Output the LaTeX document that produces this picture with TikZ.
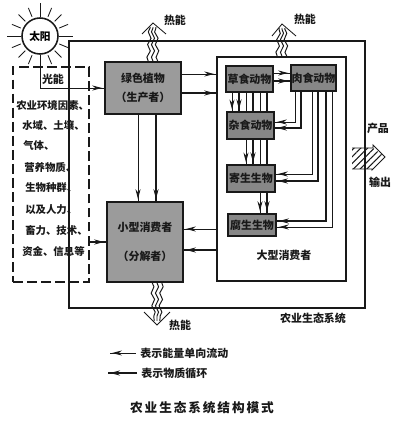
\documentclass[tikz,border=0pt]{standalone}
\usepackage{xcolor}
\usepackage{fontspec}
\setmainfont{Noto Sans CJK SC}
\newfontfamily\titlefont{Noto Sans CJK SC}[LetterSpace=15]
\usetikzlibrary{positioning,arrows.meta,calc,backgrounds,decorations.markings,decorations.pathmorphing,patterns.meta}
\definecolor{boxgray}{RGB}{155,155,155}
\definecolor{animalgray}{RGB}{135,135,135}
\definecolor{inkcol}{RGB}{25,25,25}
\tikzset{
  cnlabel/.style={text=inkcol, inner sep=0pt, font=\fontsize{7.8pt}{9pt}\selectfont\bfseries},
  envtext/.style={cnlabel, anchor=west, font=\fontsize{7.4pt}{9pt}\selectfont\bfseries},
  keytext/.style={cnlabel, anchor=west, inner sep=3pt},
  mainbox/.style={draw=inkcol, fill=boxgray, line width=1.2pt, align=center, text=inkcol,
                  minimum width=1.9cm, font=\fontsize{7.8pt}{9pt}\selectfont\bfseries},
  animalbox/.style={draw=inkcol, fill=animalgray, line width=1.2pt, text=inkcol, inner sep=0pt,
                    minimum height=0.66cm, font=\fontsize{7.8pt}{9pt}\selectfont\bfseries},
  frame/.style={draw=inkcol, line width=1.1pt, inner sep=0pt},
  sunray/.style={draw=inkcol, line width=0.6pt},
  flowtip/.style={postaction={decorate, decoration={markings,
                  mark=at position -1.5pt with {\arrow{Stealth[length=7pt,width=3.6pt]}}}}},
  energyflow/.style={draw=inkcol, line width=0.7pt, flowtip},
  matterflow/.style={draw=inkcol, line width=1.3pt, flowtip},
  plainthin/.style={draw=inkcol, line width=0.7pt},
  heatwave/.style={draw=inkcol, line width=0.7pt, decorate,
                   decoration={snake, amplitude=1.1pt, segment length=9pt}},
  heathead/.style={draw=inkcol, line width=0.6pt},
  hatched/.style={pattern={Lines[angle=45,distance=3.4pt,line width=0.7pt]}, pattern color=inkcol}
}

\begin{document}
\begin{tikzpicture}
  \useasboundingbox (0,0) rectangle (10,10.525);

  % Frames
  \node[frame, minimum width=7.4cm, minimum height=6.675cm] (system) at (5.425,6.1625) {};
  \node[frame, minimum width=3.225cm, minimum height=5.6cm] (bigframe) at (7.0375,6.3) {};
  \node[frame, dashed, dash pattern=on 7pt off 3pt, minimum width=1.9cm, minimum height=5.375cm] (envbox) at (1.275,6.1625) {};

  % Sun
  \node[draw=inkcol, fill=white, circle, line width=1.1pt, minimum size=0.9cm, inner sep=0pt,
        font=\fontsize{7.6pt}{9pt}\selectfont\bfseries] (sun) at (1.0,9.625) {太阳};
  \foreach \ang in {0,90,180}
    \draw[sunray] (sun.\ang) -- ($(sun.center)+(\ang:0.83)$);
  \foreach \ang in {22.5,45,67.5,112.5,135,157.5,202.5,225,247.5,292.5,315,337.5}
    \draw[sunray] ($(sun.center)+(\ang:0.52)$) -- ($(sun.center)+(\ang:0.76)$);

  % Producer and decomposer
  \node[mainbox, minimum height=1.3cm] (green) at (3.575,8.325) {绿色植物\\[5pt]（生产者）};
  \node[mainbox, minimum height=2.0cm] (small) at (3.625,4.475) {小型消费者\\[12pt]（分解者）};

  % Large consumers
  \node[animalbox, minimum width=1.175cm] (caoshi) at (6.2375,8.55) {草食动物};
  \node[animalbox, minimum width=1.125cm] (roushi) at (7.8375,8.575) {肉食动物};
  \node[animalbox, minimum width=1.175cm] (zashi) at (6.2625,7.3875) {杂食动物};
  \node[animalbox, minimum width=1.2cm] (jisheng) at (6.275,6.0625) {寄生生物};
  \node[animalbox, minimum width=1.2cm, minimum height=0.55cm] (fusheng) at (6.3,4.9) {腐生生物};

  % Labels
  \node[cnlabel] (lightlabel) at (1.325,8.55) {光能};
  \node[cnlabel] (bigtext) at (7.1,4.15) {大型消费者};
  \node[cnlabel] (systext) at (7.825,2.575) {农业生态系统};
  \node[cnlabel] (heatone) at (4.375,10.025) {热能};
  \node[cnlabel] (heattwo) at (7.625,10.05) {热能};
  \node[cnlabel] (heatthree) at (4.5,2.4) {热能};
  \node[cnlabel] (product) at (9.45,7.325) {产品};
  \node[cnlabel] (output) at (9.5,5.975) {输出};

  % Environment list
  \foreach \i/\xpos/\ypos/\txt in {1/0.4/7.875/农业环境因素、, 2/0.55/7.4/水域、土壤、,
      3/0.575/6.875/气体、, 4/0.6/6.325/营养物质、, 5/0.625/5.825/生物种群、,
      6/0.625/5.275/以及人力、, 7/0.625/4.75/畜力、技术、, 8/0.55/4.25/资金、信息等}
    \node[envtext] (env\i) at (\xpos,\ypos) {\txt};

  % Heat outlets
  \coordinate (tipA) at (3.825,9.95);
  \coordinate (tipB) at (7.05,9.925);
  \coordinate (tipC) at (3.925,2.4);
  \draw[heathead] ($(tipA)+(-0.275,-0.275)$) -- (tipA) -- ($(tipA)+(0.325,-0.275)$);
  \draw[heathead] ($(tipB)+(-0.25,-0.3)$) -- (tipB) -- ($(tipB)+(0.35,-0.3)$);
  \draw[heathead] ($(tipC)+(-0.325,0.325)$) -- (tipC) -- ($(tipC)+(0.325,0.325)$);
  \foreach \off in {-0.12,0,0.12} {
    \draw[heatwave] ($(green.north -| tipA)+(\off,0)$) -- ($(tipA)+(\off*0.6,-0.1)$);
    \draw[heatwave] ($(bigframe.north -| tipB)+(\off,0)$) -- ($(tipB)+(\off*0.6,-0.1)$);
    \draw[heatwave] ($(small.south -| tipC)+(\off,0)$) -- ($(tipC)+(\off*0.6,0.1)$);
  }

  % Product outlet
  \path[hatched] (8.8,6.825) -- (9.325,6.825) -- (9.625,6.6) -- (9.3,6.3) -- (8.8,6.3) -- cycle;
  \draw[plainthin] (8.8,6.825) -- (9.325,6.825) -- (9.325,6.9) -- (9.625,6.6) -- (9.3,6.275) -- (9.3,6.3) -- (8.8,6.3);

  % Flows run behind the boxes
  \begin{scope}[on background layer]
    \draw[energyflow] (sun.south) |- (green.west);
    \draw[matterflow] (envbox.east |- small.west) -- (small.west);

    \foreach \ypos/\flow in {8.675/energyflow, 8.2/matterflow} {
      \coordinate (rail) at (0,\ypos);
      \draw[\flow] (green.east |- rail) -- (bigframe.west |- rail);
    }
    \foreach \xpos/\flow in {3.45/energyflow, 3.9/matterflow} {
      \coordinate (rail) at (\xpos,0);
      \draw[\flow] (green.south -| rail) -- (small.north -| rail);
    }
    \foreach \ypos/\flow in {4.8/energyflow, 4.275/matterflow} {
      \coordinate (rail) at (0,\ypos);
      \draw[\flow] (bigframe.west |- rail) -- (small.east |- rail);
    }
    \foreach \ypos/\flow in {8.7/energyflow, 8.5/matterflow} {
      \coordinate (rail) at (0,\ypos);
      \draw[\flow] (caoshi.east |- rail) -- (roushi.west |- rail);
    }

    % Herbivores downwards
    \foreach \xpos/\target/\flow in {5.8/zashi/energyflow, 5.975/zashi/matterflow,
        6.15/jisheng/energyflow, 6.325/jisheng/matterflow,
        6.5/fusheng/energyflow, 6.675/fusheng/matterflow} {
      \coordinate (rail) at (\xpos,0);
      \draw[\flow] (caoshi.south -| rail) -- (\target.north -| rail);
    }

    % Carnivores back to the left column
    \foreach \xpos/\ypos/\target/\flow in {7.375/7.475/zashi/energyflow, 7.525/7.325/zashi/matterflow,
        7.8/6.175/jisheng/energyflow, 7.95/6.0/jisheng/matterflow,
        8.15/5.0/fusheng/matterflow, 8.3/4.85/fusheng/energyflow} {
      \coordinate (bend) at (\xpos,\ypos);
      \draw[\flow] (roushi.south -| bend) -- (bend) -- (\target.east |- bend);
    }
  \end{scope}

  % Key
  \node[keytext] (energykey) at (3.4,1.7) {表示能量单向流动};
  \node[keytext] (matterkey) at (3.425,1.2) {表示物质循环};
  \coordinate (energyend) at (2.75,1.7);
  \coordinate (matterend) at (2.7,1.2);
  \draw[energyflow] (energykey.west) -- (energyend);
  \draw[matterflow] (matterkey.west) -- (matterend);

  % Caption
  \node[cnlabel, font=\fontsize{9pt}{10pt}\titlefont\bfseries] (caption) at (5.05,0.325) {农业生态系统结构模式};
\end{tikzpicture}
\end{document}
